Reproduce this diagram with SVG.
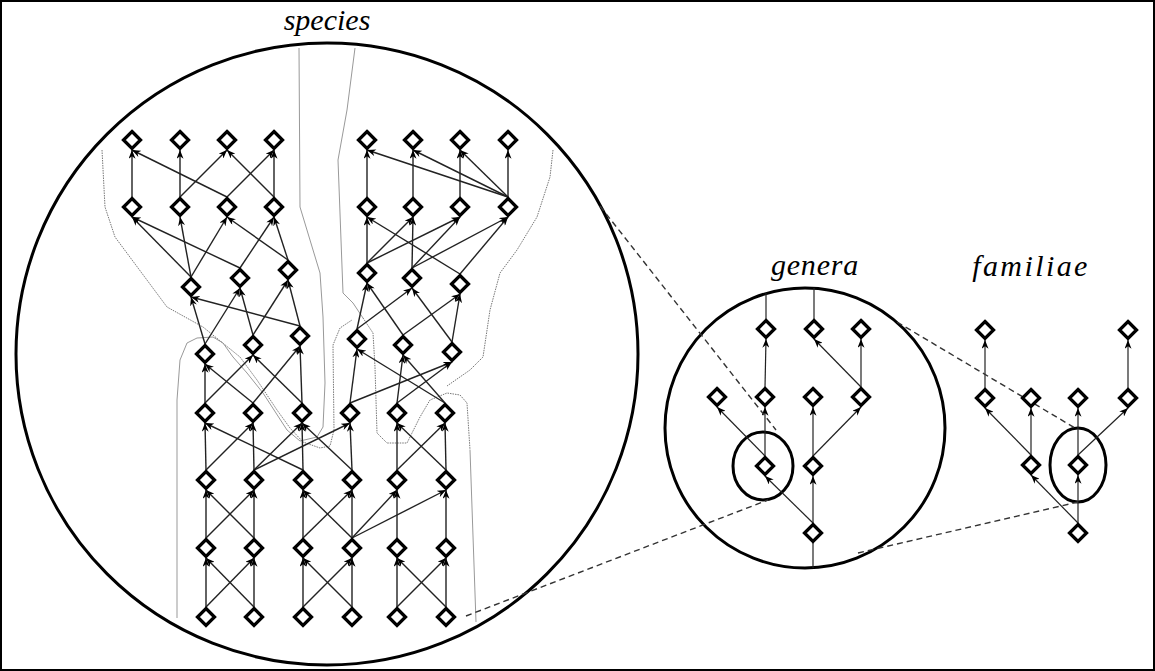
<svg xmlns="http://www.w3.org/2000/svg" width="1155" height="671" viewBox="0 0 1155 671">
<style>
.nd{fill:#fff;stroke:#000;stroke-width:3.3;stroke-linejoin:miter}
.e{stroke:#222;stroke-width:1.4;fill:none;marker-end:url(#ah)}
.es{stroke:#222;stroke-width:1.2;fill:none;marker-end:url(#ah)}
.ln{stroke:#222;stroke-width:1.2;fill:none}
.ring{fill:none;stroke:#000;stroke-width:3}
.dash{stroke:#333;stroke-width:1.4;fill:none;stroke-dasharray:6 4}
.gd{stroke:#777;stroke-width:1;fill:none;stroke-dasharray:1.5 1}
.gs{stroke:#999;stroke-width:1;fill:none}
.lbl{font-family:"Liberation Serif",serif;font-style:italic;font-size:30px;fill:#000;text-anchor:middle}
</style>
<defs>
<marker id="ah" viewBox="0 0 10 8" refX="10" refY="4" markerWidth="9" markerHeight="7" markerUnits="userSpaceOnUse" orient="auto"><path d="M0,0 L10,4 L0,8 L3,4 Z" fill="#000"/></marker>
<path id="dm" d="M0,-8.5 L8.5,0 L0,8.5 L-8.5,0 Z"/>
</defs>
<rect x="1" y="1" width="1153" height="669" fill="#fff" stroke="#000" stroke-width="2"/>
<text class="lbl" x="327" y="30">species</text>
<text class="lbl" x="815" y="275" style="letter-spacing:0.8px">genera</text>
<text class="lbl" x="1031" y="276" style="letter-spacing:2.4px">familiae</text>
<g id="rings">
<circle class="ring" cx="327" cy="354" r="311"/>
<circle class="ring" cx="805" cy="428" r="140"/>
<ellipse class="ring" cx="763" cy="466" rx="30" ry="34"/>
<ellipse class="ring" cx="1078" cy="465" rx="28" ry="37"/>
</g>
<g id="boundaries">
<path class="gd" d="M102,150 L105,207 L115,237 L167,307 L203,327 L240,357 L257,380 L277,410 L290,428 L303,442 L320,448 L330,446 L334,430 L333,345 L340,328 L352,320"/>
<path class="gs" d="M299,48 L300,207 L320,273 L323,317 L325,383 L323,427 L317,437 L300,441 L287,430 L263,393 L247,373 L233,357 L223,343 L213,337 L197,338 L187,343 L180,360 L177,400 L177,618"/>
<path class="gs" d="M355,48 L347,110 L338,160 L343,293 L353,303 L363,318"/>
<path class="gd" d="M363,318 L373,333 L375,367 L377,433 L387,443 L407,443 L420,417 L430,400 L447,393 L460,395 L467,403 L470,450"/>
<path class="gs" d="M470,450 L476,622"/>
<path class="gd" d="M553,150 L550,177 L537,217 L517,250 L500,273 L490,310 L483,357 L470,370 L447,386"/>
</g>
<g id="connectors">
<line class="e" x1="132" y1="197" x2="132" y2="150"/>
<line class="e" x1="180" y1="197" x2="180" y2="150"/>
<line class="e" x1="274" y1="197" x2="274" y2="150"/>
<line class="e" x1="227" y1="197" x2="132" y2="150"/>
<line class="e" x1="180" y1="197" x2="227" y2="150"/>
<line class="e" x1="274" y1="197" x2="227" y2="150"/>
<line class="e" x1="227" y1="197" x2="274" y2="150"/>
<line class="e" x1="367" y1="197" x2="367" y2="150"/>
<line class="e" x1="413" y1="197" x2="413" y2="150"/>
<line class="e" x1="460" y1="197" x2="460" y2="150"/>
<line class="e" x1="508" y1="197" x2="508" y2="150"/>
<line class="e" x1="508" y1="197" x2="367" y2="150"/>
<line class="e" x1="508" y1="197" x2="413" y2="150"/>
<line class="e" x1="508" y1="197" x2="460" y2="150"/>
<line class="e" x1="191" y1="277" x2="132" y2="217"/>
<line class="e" x1="191" y1="277" x2="180" y2="217"/>
<line class="e" x1="191" y1="277" x2="227" y2="217"/>
<line class="e" x1="240" y1="268" x2="132" y2="217"/>
<line class="e" x1="240" y1="268" x2="274" y2="217"/>
<line class="e" x1="288" y1="260" x2="227" y2="217"/>
<line class="e" x1="288" y1="260" x2="274" y2="217"/>
<line class="e" x1="367" y1="263" x2="367" y2="217"/>
<line class="e" x1="367" y1="263" x2="413" y2="217"/>
<line class="e" x1="367" y1="263" x2="460" y2="217"/>
<line class="e" x1="412" y1="268" x2="413" y2="217"/>
<line class="e" x1="412" y1="268" x2="460" y2="217"/>
<line class="e" x1="412" y1="268" x2="508" y2="217"/>
<line class="e" x1="460" y1="274" x2="367" y2="217"/>
<line class="e" x1="460" y1="274" x2="508" y2="217"/>
<line class="e" x1="205" y1="344" x2="191" y2="297"/>
<line class="e" x1="205" y1="344" x2="240" y2="288"/>
<line class="e" x1="253" y1="335" x2="240" y2="288"/>
<line class="e" x1="253" y1="335" x2="288" y2="280"/>
<line class="e" x1="300" y1="326" x2="191" y2="297"/>
<line class="e" x1="300" y1="326" x2="288" y2="280"/>
<line class="e" x1="357" y1="329" x2="367" y2="283"/>
<line class="e" x1="357" y1="329" x2="412" y2="288"/>
<line class="e" x1="403" y1="335" x2="367" y2="283"/>
<line class="e" x1="403" y1="335" x2="460" y2="294"/>
<line class="e" x1="452" y1="342" x2="460" y2="294"/>
<line class="e" x1="452" y1="342" x2="412" y2="288"/>
<line class="e" x1="205" y1="403" x2="205" y2="364"/>
<line class="e" x1="205" y1="403" x2="253" y2="355"/>
<line class="e" x1="253" y1="403" x2="205" y2="364"/>
<line class="e" x1="253" y1="403" x2="300" y2="346"/>
<line class="e" x1="302" y1="403" x2="253" y2="355"/>
<line class="e" x1="302" y1="403" x2="300" y2="346"/>
<line class="e" x1="350" y1="403" x2="357" y2="349"/>
<line class="e" x1="350" y1="403" x2="452" y2="362"/>
<line class="e" x1="397" y1="403" x2="403" y2="355"/>
<line class="e" x1="397" y1="403" x2="452" y2="362"/>
<line class="e" x1="445" y1="403" x2="357" y2="349"/>
<line class="e" x1="445" y1="403" x2="403" y2="355"/>
<line class="e" x1="206" y1="470" x2="205" y2="423"/>
<line class="e" x1="206" y1="470" x2="253" y2="423"/>
<line class="e" x1="254" y1="470" x2="253" y2="423"/>
<line class="e" x1="254" y1="470" x2="302" y2="423"/>
<line class="e" x1="254" y1="470" x2="350" y2="423"/>
<line class="e" x1="303" y1="470" x2="302" y2="423"/>
<line class="e" x1="303" y1="470" x2="205" y2="423"/>
<line class="e" x1="352" y1="470" x2="350" y2="423"/>
<line class="e" x1="352" y1="470" x2="302" y2="423"/>
<line class="e" x1="397" y1="470" x2="397" y2="423"/>
<line class="e" x1="397" y1="470" x2="445" y2="423"/>
<line class="e" x1="446" y1="470" x2="445" y2="423"/>
<line class="e" x1="446" y1="470" x2="397" y2="423"/>
<line class="e" x1="206" y1="538" x2="206" y2="490"/>
<line class="e" x1="206" y1="538" x2="254" y2="490"/>
<line class="e" x1="254" y1="538" x2="254" y2="490"/>
<line class="e" x1="254" y1="538" x2="206" y2="490"/>
<line class="e" x1="303" y1="538" x2="303" y2="490"/>
<line class="e" x1="303" y1="538" x2="352" y2="490"/>
<line class="e" x1="352" y1="538" x2="352" y2="490"/>
<line class="e" x1="352" y1="538" x2="303" y2="490"/>
<line class="e" x1="352" y1="538" x2="397" y2="490"/>
<line class="e" x1="352" y1="538" x2="446" y2="490"/>
<line class="e" x1="397" y1="538" x2="397" y2="490"/>
<line class="e" x1="446" y1="538" x2="446" y2="490"/>
<line class="e" x1="206" y1="607" x2="206" y2="558"/>
<line class="e" x1="206" y1="607" x2="254" y2="558"/>
<line class="e" x1="254" y1="607" x2="254" y2="558"/>
<line class="e" x1="254" y1="607" x2="206" y2="558"/>
<line class="e" x1="303" y1="607" x2="303" y2="558"/>
<line class="e" x1="303" y1="607" x2="352" y2="558"/>
<line class="e" x1="352" y1="607" x2="352" y2="558"/>
<line class="e" x1="352" y1="607" x2="303" y2="558"/>
<line class="e" x1="397" y1="607" x2="397" y2="558"/>
<line class="e" x1="397" y1="607" x2="446" y2="558"/>
<line class="e" x1="446" y1="607" x2="446" y2="558"/>
<line class="e" x1="446" y1="607" x2="397" y2="558"/>
<line class="ln" x1="766" y1="319" x2="766" y2="293"/>
<line class="ln" x1="814" y1="319" x2="814" y2="288"/>
<line class="ln" x1="813" y1="543" x2="813" y2="568"/>
<line class="es" x1="765" y1="387" x2="766" y2="339"/>
<line class="es" x1="861" y1="387" x2="861" y2="339"/>
<line class="es" x1="861" y1="387" x2="814" y2="339"/>
<line class="es" x1="765" y1="456" x2="765" y2="407"/>
<line class="es" x1="765" y1="456" x2="717" y2="407"/>
<line class="es" x1="813" y1="456" x2="813" y2="407"/>
<line class="es" x1="813" y1="456" x2="861" y2="407"/>
<line class="es" x1="813" y1="523" x2="813" y2="476"/>
<line class="es" x1="813" y1="523" x2="765" y2="476"/>
<line class="es" x1="985" y1="388" x2="985" y2="340"/>
<line class="es" x1="1128" y1="388" x2="1128" y2="340"/>
<line class="es" x1="1031" y1="455" x2="985" y2="408"/>
<line class="es" x1="1031" y1="455" x2="1031" y2="408"/>
<line class="es" x1="1078" y1="455" x2="1078" y2="408"/>
<line class="es" x1="1078" y1="455" x2="1128" y2="408"/>
<line class="es" x1="1078" y1="523" x2="1078" y2="475"/>
<line class="es" x1="1078" y1="523" x2="1031" y2="475"/>
<line class="dash" x1="600" y1="206" x2="776" y2="430"/>
<line class="dash" x1="466" y1="616" x2="768" y2="500"/>
<line class="dash" x1="897" y1="322" x2="1075" y2="428"/>
<line class="dash" x1="858" y1="553" x2="1078" y2="502"/>
</g>
<g id="nodes" class="nd">
<use id="s1a" href="#dm" x="132" y="140"/><use id="s1b" href="#dm" x="180" y="140"/><use id="s1c" href="#dm" x="227" y="140"/><use id="s1d" href="#dm" x="274" y="140"/>
<use id="s1e" href="#dm" x="367" y="140"/><use id="s1f" href="#dm" x="413" y="140"/><use id="s1g" href="#dm" x="460" y="140"/><use id="s1h" href="#dm" x="508" y="140"/>
<use id="s2a" href="#dm" x="132" y="207"/><use id="s2b" href="#dm" x="180" y="207"/><use id="s2c" href="#dm" x="227" y="207"/><use id="s2d" href="#dm" x="274" y="207"/>
<use id="s2e" href="#dm" x="367" y="207"/><use id="s2f" href="#dm" x="413" y="207"/><use id="s2g" href="#dm" x="460" y="207"/><use id="s2h" href="#dm" x="508" y="207"/>
<use id="s3a" href="#dm" x="191" y="287"/><use id="s3b" href="#dm" x="240" y="278"/><use id="s3c" href="#dm" x="288" y="270"/>
<use id="s3d" href="#dm" x="367" y="273"/><use id="s3e" href="#dm" x="412" y="278"/><use id="s3f" href="#dm" x="460" y="284"/>
<use id="s4a" href="#dm" x="205" y="354"/><use id="s4b" href="#dm" x="253" y="345"/><use id="s4c" href="#dm" x="300" y="336"/>
<use id="s4d" href="#dm" x="357" y="339"/><use id="s4e" href="#dm" x="403" y="345"/><use id="s4f" href="#dm" x="452" y="352"/>
<use id="s5a" href="#dm" x="205" y="413"/><use id="s5b" href="#dm" x="253" y="413"/><use id="s5c" href="#dm" x="302" y="413"/>
<use id="s5d" href="#dm" x="350" y="413"/><use id="s5e" href="#dm" x="397" y="413"/><use id="s5f" href="#dm" x="445" y="413"/>
<use id="s6a" href="#dm" x="206" y="480"/><use id="s6b" href="#dm" x="254" y="480"/><use id="s6c" href="#dm" x="303" y="480"/>
<use id="s6d" href="#dm" x="352" y="480"/><use id="s6e" href="#dm" x="397" y="480"/><use id="s6f" href="#dm" x="446" y="480"/>
<use id="s7a" href="#dm" x="206" y="548"/><use id="s7b" href="#dm" x="254" y="548"/><use id="s7c" href="#dm" x="303" y="548"/>
<use id="s7d" href="#dm" x="352" y="548"/><use id="s7e" href="#dm" x="397" y="548"/><use id="s7f" href="#dm" x="446" y="548"/>
<use id="s8a" href="#dm" x="206" y="617"/><use id="s8b" href="#dm" x="254" y="617"/><use id="s8c" href="#dm" x="303" y="617"/>
<use id="s8d" href="#dm" x="352" y="617"/><use id="s8e" href="#dm" x="397" y="617"/><use id="s8f" href="#dm" x="446" y="617"/>
<use id="g1" href="#dm" x="766" y="329"/><use id="g2" href="#dm" x="814" y="329"/><use id="g3" href="#dm" x="861" y="329"/>
<use id="g4" href="#dm" x="717" y="397"/><use id="g5" href="#dm" x="765" y="397"/><use id="g6" href="#dm" x="813" y="397"/><use id="g7" href="#dm" x="861" y="397"/>
<use id="g8" href="#dm" x="765" y="466"/><use id="g9" href="#dm" x="813" y="466"/><use id="g10" href="#dm" x="813" y="533"/>
<use id="f1" href="#dm" x="985" y="330"/><use id="f2" href="#dm" x="1128" y="330"/>
<use id="f3" href="#dm" x="985" y="398"/><use id="f4" href="#dm" x="1031" y="398"/><use id="f5" href="#dm" x="1078" y="398"/><use id="f6" href="#dm" x="1128" y="398"/>
<use id="f7" href="#dm" x="1031" y="465"/><use id="f8" href="#dm" x="1078" y="465"/><use id="f9" href="#dm" x="1078" y="533"/>
</g>
</svg>
